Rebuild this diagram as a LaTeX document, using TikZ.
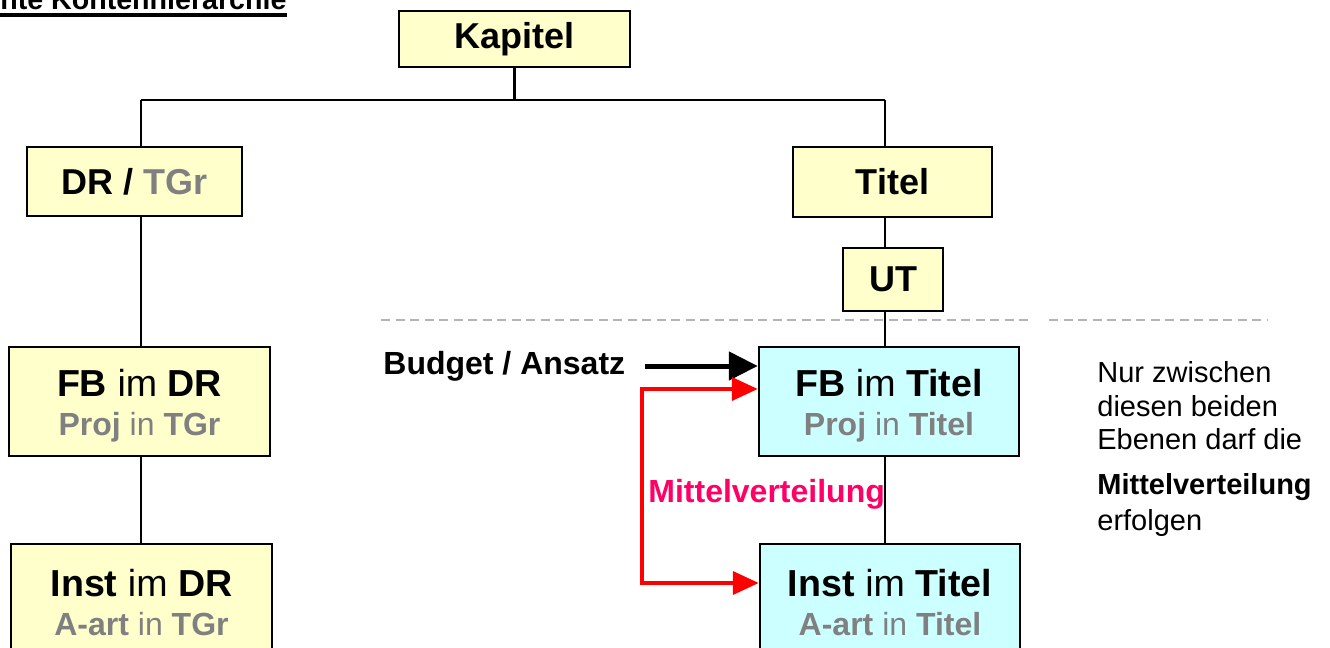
\documentclass[tikz,border=0pt]{standalone}
\usepackage{fontspec}
\setmainfont{Liberation Sans}
\usetikzlibrary{arrows.meta,calc}
\definecolor{boxyellow}{HTML}{FFFFCC}
\definecolor{boxcyan}{HTML}{CCFFFF}
\definecolor{txtgray}{HTML}{808080}
\definecolor{mvmagenta}{HTML}{FF0066}
\definecolor{dashgray}{HTML}{B4B4B4}
\newcommand{\grtxt}[1]{\textcolor{txtgray}{#1}}
\newcommand{\erst}[1]{{\fontsize{18.8}{19.5}\selectfont\rule{0pt}{17.5pt}#1}}
\newcommand{\zweit}[1]{{\fontsize{16}{19.5}\selectfont\color{txtgray}#1}}
\begin{document}
\begin{tikzpicture}[x=0.5pt,y=-0.5pt,
    konto/.style={draw, line width=1.25pt, inner sep=0pt, align=center,
                  font=\fontsize{18}{19.5}\selectfont},
    gelb/.style={konto, fill=boxyellow},
    tuerkis/.style={konto, fill=boxcyan},
    verbind/.style={line width=1.1pt},
    hinweis/.style={anchor=base west, inner sep=0pt},
    mvpfeil/.style={red, line width=2pt, line join=miter,
                    {Triangle[length=13pt,width=11.5pt]}-{Triangle[length=13pt,width=11.5pt]}}]
    \useasboundingbox (0,0) rectangle (1330,648);

    % Titel oben links
    \node[hinweis, font=\fontsize{14.3}{16}\selectfont\bfseries] (ueber) at (0,10) {nte Kontenhierarchie};
    \draw[line width=2pt] ($(ueber.base west)+(0,5)$) -- ($(ueber.base east)+(0,5)$);

    % Trennlinie
    \draw[dashgray, line width=1pt, dash pattern=on 4.5pt off 2.75pt] (381,320) -- (1030,320);
    \draw[dashgray, line width=1pt, dash pattern=on 4.5pt off 2.75pt] (1049,320) -- (1267,320);

    % Konten
    \node[gelb, minimum width=115.5pt, minimum height=28pt] (kap) at (514.5,39) {\textbf{Kapitel}};
    \node[gelb, minimum width=107.5pt, minimum height=34.5pt] (dr) at (134.5,181.5) {\textbf{DR / \grtxt{TGr}}};
    \node[gelb, minimum width=99.5pt, minimum height=35pt] (tit) at (892.5,182) {\textbf{Titel}};
    \node[gelb, minimum width=50pt, minimum height=31.5pt] (ut) at (893,279.5) {\textbf{UT}};

    \node[gelb, minimum width=130.5pt, minimum height=54.5pt] (fbd) at (139.5,401.5)
        {\erst{\textbf{FB} im \textbf{DR}}\\ \zweit{\textbf{Proj} in \textbf{TGr}}};
    \node[gelb, minimum width=130.5pt, minimum height=55pt] (ind) at (141.5,599)
        {\erst{\textbf{Inst} im \textbf{DR}}\\ \zweit{\textbf{A-art} in \textbf{TGr}}};
    \node[tuerkis, minimum width=130pt, minimum height=54.5pt] (fbt) at (889,401.5)
        {\erst{\textbf{FB} im \textbf{Titel}}\\ \zweit{\textbf{Proj} in \textbf{Titel}}};
    \node[tuerkis, minimum width=130pt, minimum height=55pt] (ist) at (890,599)
        {\erst{\textbf{Inst} im \textbf{Titel}}\\ \zweit{\textbf{A-art} in \textbf{Titel}}};

    % Verbindungen
    \coordinate (bus) at (514.5,100);
    \coordinate (lcol) at (141,100);
    \coordinate (rcol) at (885,100);
    \draw[verbind] (kap.south) -- (bus);
    \draw[verbind] (lcol) -- (rcol);
    \draw[verbind] (lcol) -- (lcol |- dr.north);
    \draw[verbind] (dr.south -| lcol) -- (fbd.north -| lcol);
    \draw[verbind] (fbd.south -| lcol) -- (ind.north -| lcol);
    \draw[verbind] (rcol) -- (rcol |- tit.north);
    \draw[verbind] (tit.south -| rcol) -- (ut.north -| rcol);
    \draw[verbind] (ut.south -| rcol) -- (fbt.north -| rcol);
    \draw[verbind] (fbt.south -| rcol) -- (ist.north -| rcol);

    % Budget
    \node[hinweis, font=\fontsize{16}{19}\selectfont\bfseries] (budget) at (383,374) {Budget / Ansatz};
    \coordinate (bstart) at (645,366);
    \draw[line width=2.5pt, -{Triangle[length=14.5pt,width=14pt]}] (bstart) -- (bstart -| fbt.west);

    % Mittelverteilung
    \coordinate (mvoben) at (642,389);
    \coordinate (mvunten) at (642,583);
    \draw[mvpfeil] (mvoben -| fbt.west) -- (mvoben) -- (mvunten) -- (mvunten -| ist.west);
    \node[hinweis, font=\fontsize{16}{19}\selectfont\bfseries, text=mvmagenta] (mv) at (648,502) {Mittelverteilung};

    % Hinweistext
    \foreach \y/\t in {382/Nur zwischen, 416/diesen beiden, 449/Ebenen darf die,
                       494/\textbf{Mittelverteilung}, 530/erfolgen}
        \node[hinweis, font=\fontsize{14.5}{17}\selectfont] (hw\y) at (1097,\y) {\t};
\end{tikzpicture}
\end{document}
